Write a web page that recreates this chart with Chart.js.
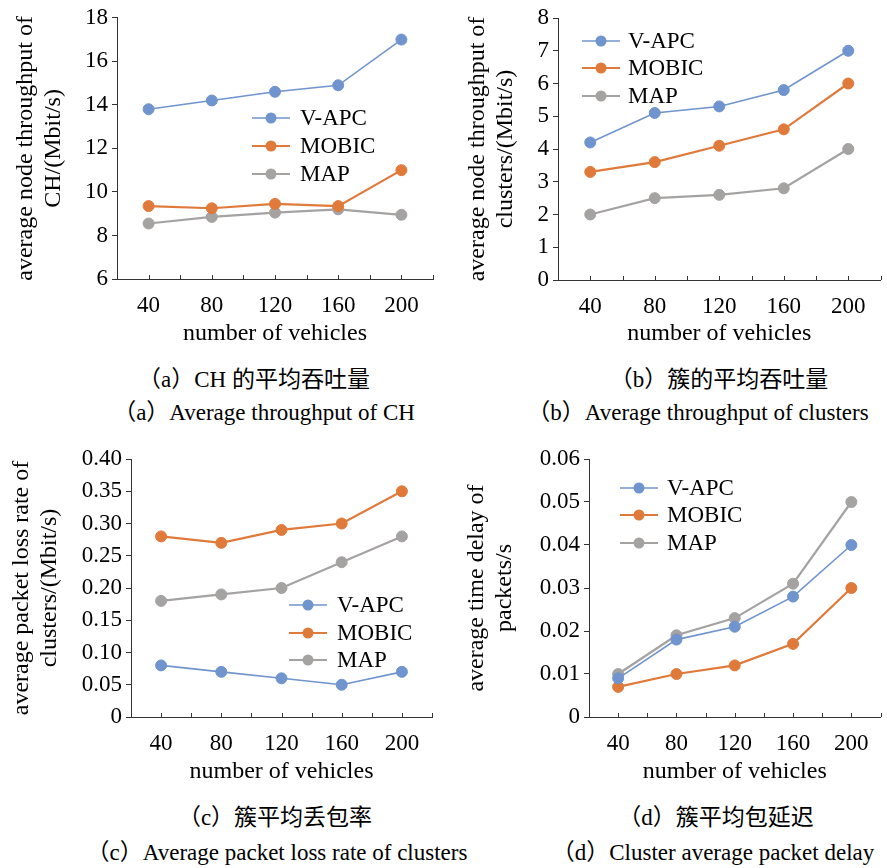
<!DOCTYPE html>
<html>
<head>
<meta charset="utf-8">
<script src="https://cdn.jsdelivr.net/npm/chart.js@4.4.1/dist/chart.umd.min.js"></script>
<style>
  body { margin: 0; background: #fff; }
  #page { position: relative; width: 887px; height: 868px; overflow: hidden; background: #fff;
          font-family: "Liberation Serif", "Noto Sans CJK SC", serif; }
  .box { position: absolute; }
  .cap { position: absolute; width: 500px; text-align: center; font-size: 23px; line-height: 28px;
         white-space: nowrap; color: #000; }
</style>
</head>
<body>
<div id="page">
  <div class="box" style="left:0;top:0;width:440px;height:348px"><canvas id="chart-a" width="440" height="348"></canvas></div>
  <div class="box" style="left:440px;top:0;width:447px;height:348px"><canvas id="chart-b" width="447" height="348"></canvas></div>
  <div class="box" style="left:0;top:440px;width:440px;height:346px"><canvas id="chart-c" width="440" height="346"></canvas></div>
  <div class="box" style="left:440px;top:440px;width:447px;height:346px"><canvas id="chart-d" width="447" height="346"></canvas></div>

  <div class="cap" style="left:4px;top:366px">（a）CH 的平均吞吐量</div>
  <div class="cap" style="left:14px;top:399px">（a）Average throughput of CH</div>
  <div class="cap" style="left:469px;top:366px">（b）簇的平均吞吐量</div>
  <div class="cap" style="left:448px;top:399px">（b）Average throughput of clusters</div>
  <div class="cap" style="left:25px;top:804px">（c）簇平均丢包率</div>
  <div class="cap" style="left:27px;top:839px">（c）Average packet loss rate of clusters</div>
  <div class="cap" style="left:466px;top:804px">（d）簇平均包延迟</div>
  <div class="cap" style="left:463px;top:839px">（d）Cluster average packet delay</div>
</div>

<script>
'use strict';

// categories (number of vehicles)
let vehicles = ['40', '80', '120', '160', '200'];
let seriesNames = ['V-APC', 'MOBIC', 'MAP'];

// (a) average node throughput of CH
let chA_vapc = [13.8, 14.2, 14.6, 14.9, 17.0];
let chA_mobic = [9.35, 9.25, 9.45, 9.35, 11.0];
let chA_map = [8.55, 8.85, 9.05, 9.2, 8.95];
let yTicksA = [6, 8, 10, 12, 14, 16, 18];

// (b) average node throughput of clusters
let clB_vapc = [4.2, 5.1, 5.3, 5.8, 7.0];
let clB_mobic = [3.3, 3.6, 4.1, 4.6, 6.0];
let clB_map = [2.0, 2.5, 2.6, 2.8, 4.0];
let yTicksB = [0, 1, 2, 3, 4, 5, 6, 7, 8];

// (c) average packet loss rate of clusters
let lossC_vapc = [0.08, 0.07, 0.06, 0.05, 0.07];
let lossC_mobic = [0.28, 0.27, 0.29, 0.30, 0.35];
let lossC_map = [0.18, 0.19, 0.20, 0.24, 0.28];
let yTicksC = [0, 0.05, 0.10, 0.15, 0.20, 0.25, 0.30, 0.35, 0.40];
let yLabelsC = ['0', '0.05', '0.10', '0.15', '0.20', '0.25', '0.30', '0.35', '0.40'];

// (d) average time delay of packets
let delayD_vapc = [0.009, 0.018, 0.021, 0.028, 0.040];
let delayD_mobic = [0.007, 0.010, 0.012, 0.017, 0.030];
let delayD_map = [0.010, 0.019, 0.023, 0.031, 0.050];
let yTicksD = [0, 0.01, 0.02, 0.03, 0.04, 0.05, 0.06];
let yLabelsD = ['0', '0.01', '0.02', '0.03', '0.04', '0.05', '0.06'];

let colors = ['#7094cd', '#e07a3a', '#a5a2a2'];
let lineWidths = [1.6, 2.2, 2.2];
let FONT = '"Liberation Serif", "Times New Roman", serif';
let AXIS = '#333';

// inward x tick marks (at category centres and boundaries) + legend inside the plot
let figureDecor = {
  id: 'figureDecor',
  afterDraw(chart, args, opts) {
    let ctx = chart.ctx;
    let x = chart.scales.x;
    ctx.save();
    ctx.strokeStyle = AXIS;
    ctx.lineWidth = 1;
    let n = x.ticks.length * 2;
    for (let k = 0; k <= n; k++) {
      let px = Math.round(x.left + k * (x.right - x.left) / n) + 0.5;
      ctx.beginPath();
      ctx.moveTo(px, x.top);
      ctx.lineTo(px, x.top - 4);
      ctx.stroke();
    }
    // legend
    ctx.font = '23px ' + FONT;
    ctx.textBaseline = 'middle';
    chart.data.datasets.forEach((ds, i) => {
      let y = opts.rows[i];
      ctx.strokeStyle = ds.borderColor;
      ctx.lineWidth = ds.borderWidth;
      ctx.beginPath();
      ctx.moveTo(opts.lineX, y);
      ctx.lineTo(opts.lineX + 38, y);
      ctx.stroke();
      ctx.fillStyle = ds.backgroundColor;
      ctx.beginPath();
      ctx.arc(opts.lineX + 19, y, 5.5, 0, Math.PI * 2);
      ctx.fill();
      ctx.fillStyle = '#000';
      ctx.fillText(ds.label, opts.textX, y + 1);
    });
    ctx.restore();
  }
};

function makeChart(id, series, yTicks, yLabels, yTitle, box, legend) {
  let datasets = [];
  for (let i = 0; i < series.length; i++) {
    datasets.push({
      label: seriesNames[i],
      data: series[i],
      borderColor: colors[i],
      backgroundColor: colors[i],
      borderWidth: lineWidths[i],
      pointRadius: 5.5,
      pointBorderWidth: 1,
      pointBackgroundColor: colors[i],
      pointBorderColor: colors[i],
      tension: 0
    });
  }
  return new Chart(document.getElementById(id), {
    type: 'line',
    data: { labels: vehicles, datasets: datasets },
    options: {
      responsive: false,
      animation: false,
      devicePixelRatio: 1,
      layout: { padding: { top: box.top, right: box.right, left: 0, bottom: 0 } },
      plugins: {
        legend: { display: false },
        tooltip: { enabled: false },
        figureDecor: legend
      },
      scales: {
        x: {
          type: 'category',
          offset: true,
          grid: { display: false },
          border: { display: true, color: AXIS, width: 1 },
          ticks: { color: '#000', padding: 5, font: { family: FONT, size: 23 } },
          title: {
            display: true, text: 'number of vehicles', color: '#000',
            padding: 0, font: { family: FONT, size: 24, lineHeight: 1.2 }
          },
          afterFit: s => { s.height = box.xh; }
        },
        y: {
          min: yTicks[0],
          max: yTicks[yTicks.length - 1],
          afterBuildTicks: s => { s.ticks = yTicks.map(v => ({ value: v })); },
          grid: { drawOnChartArea: false, drawTicks: true, tickLength: 5, color: AXIS },
          border: { display: true, color: AXIS, width: 1 },
          ticks: {
            color: '#000', padding: 4, font: { family: FONT, size: 23 },
            callback: (v, i) => (yLabels ? yLabels[i] : String(v))
          },
          title: {
            display: true, text: yTitle, color: '#000',
            padding: { top: box.titlePad, bottom: 0 },
            font: { family: FONT, size: 24, lineHeight: 1.2 }
          },
          afterFit: s => { s.width = box.left; }
        }
      }
    },
    plugins: [figureDecor]
  });
}

makeChart('chart-a', [chA_vapc, chA_mobic, chA_map], yTicksA, null,
  ['average node throughput of', 'CH/(Mbit/s)'],
  { left: 117, top: 17, right: 7, xh: 69, titlePad: 11 },
  { lineX: 252, textX: 300, rows: [118, 146, 174] });

makeChart('chart-b', [clB_vapc, clB_mobic, clB_map], yTicksB, null,
  ['average node throughput of', 'clusters/(Mbit/s)'],
  { left: 118, top: 18, right: 4, xh: 68, titlePad: 23 },
  { lineX: 142, textX: 188, rows: [41, 68, 96] });

makeChart('chart-c', [lossC_vapc, lossC_mobic, lossC_map], yTicksC, yLabelsC,
  ['average packet loss rate of', 'clusters/(Mbit/s)'],
  { left: 131, top: 19, right: 8, xh: 69, titlePad: 7 },
  { lineX: 289, textX: 337, rows: [165, 193, 220] });

makeChart('chart-d', [delayD_vapc, delayD_mobic, delayD_map], yTicksD, yLabelsD,
  ['average time delay of', 'packets/s'],
  { left: 149, top: 19, right: 0, xh: 69, titlePad: 22 },
  { lineX: 180, textX: 227, rows: [48, 75, 103] });
</script>
</body>
</html>
